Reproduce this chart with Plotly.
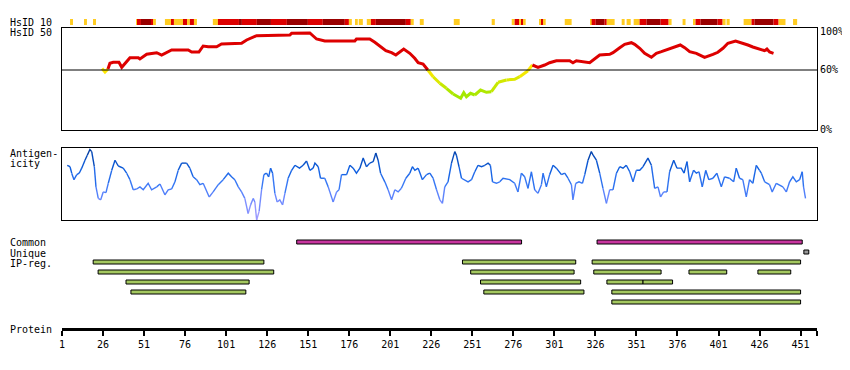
import plotly.graph_objects as go

# The page body adds an 8px margin; the figure is sized to fill the rest of the window.
PAGE_OFFSET = 8
W, H = 850 - PAGE_OFFSET, 370 - PAGE_OFFSET
FONT = "DejaVu Sans Mono"

# ---------------- data ----------------
AXIS_START = 1
PROTEIN_LENGTH = 461
TICK_VALUES = [1, 26, 51, 76, 101, 126, 151, 176, 201, 226, 251, 276, 301, 326, 351, 376, 401, 426, 451, 461]
TICK_LABELS = ["1", "26", "51", "76", "101", "126", "151", "176", "201", "226", "251", "276", "301",
               "326", "351", "376", "401", "426", "451", ""]

# HsID 10 heat strip: g = moderate (gold), r = high (red), d = very high (dark red)
HSID10_START = [5.9, 15.0, 19.9, 46.1, 46.7, 49.1, 55.8, 57.0, 63.7, 68.0, 69.2, 74.7, 77.7, 78.9, 81.4,
                92.9, 96.0, 108.8, 110.6, 119.7, 128.3, 138.0, 150.8, 159.9, 173.3, 175.8, 180.0, 181.8,
                186.7, 189.2, 192.2, 210.5, 213.5, 219.0, 239.7, 262.8, 275.0, 276.8, 279.9, 281.1, 282.3,
                292.1, 293.3, 294.5, 307.3, 323.1, 323.7, 326.2, 331.6, 332.9, 342.0, 345.0, 349.3, 352.9,
                357.2, 365.7, 370.6, 379.1, 385.8, 387.0, 390.1, 400.4, 403.5, 405.9, 416.3, 421.1, 422.9,
                434.5, 437.6, 446.4]
HSID10_END = [7.7, 16.2, 21.7, 46.7, 49.1, 55.8, 57.0, 58.2, 68.0, 69.2, 74.7, 77.7, 78.9, 81.4, 83.2,
              96.0, 108.8, 110.6, 119.7, 128.3, 138.0, 150.8, 159.9, 173.3, 175.8, 177.6, 181.2, 184.3,
              189.2, 192.2, 210.5, 213.5, 215.3, 221.4, 243.3, 264.7, 276.8, 279.9, 281.1, 282.3, 283.5,
              293.3, 294.5, 295.7, 311.5, 323.7, 326.2, 331.6, 332.9, 337.7, 343.8, 347.5, 352.9, 357.2,
              365.7, 370.6, 372.4, 380.9, 387.0, 390.1, 400.4, 403.5, 405.3, 407.8, 421.1, 422.9, 434.5,
              437.6, 441.8, 448.9]
HSID10_LEVEL = ["g", "g", "g", "g", "r", "d", "r", "g", "g", "r", "g", "r", "g", "r", "g",
                "g", "r", "d", "r", "d", "r", "d", "r", "d", "r", "g", "g", "g",
                "g", "r", "d", "r", "g", "g", "g", "g", "g", "r", "g", "r", "g",
                "g", "r", "g", "g", "g", "r", "d", "r", "g", "g", "g", "g", "r",
                "d", "r", "g", "g", "g", "r", "d", "r", "g", "g", "g", "r", "d",
                "r", "g", "g"]

# HsID 50 identity (%)
HSID50_THRESHOLD = 60
HSID50_POS = [25.4, 27.2, 29.0, 30.2, 32.2, 35.7, 37.4, 42.4, 47.5, 48.5, 52.6, 58.7, 61.7, 64.8, 67.8,
              77.9, 80.0, 84.4, 87.0, 90.1, 95.2, 98.2, 110.4, 113.5, 119.5, 139.8, 140.9, 152.0, 154.0,
              156.1, 161.1, 179.4, 180.4, 188.5, 191.6, 194.6, 198.3, 201.8, 204.4, 209.2, 212.9, 215.9,
              218.0, 221.0, 223.1, 223.9, 227.1, 231.2, 235.2, 239.3, 243.9, 245.8, 247.4, 249.9, 252.5,
              256.0, 259.6, 262.6, 266.7, 271.8, 276.8, 279.9, 284.9, 287.6, 291.0, 295.1, 298.1, 302.2,
              310.3, 312.3, 314.4, 322.5, 325.5, 328.6, 334.7, 336.7, 340.8, 343.8, 347.9, 349.9, 353.0,
              356.0, 360.1, 363.1, 366.2, 369.2, 373.2, 377.7, 380.4, 383.4, 387.5, 392.5, 397.6, 400.6,
              403.7, 406.7, 411.4, 414.9, 418.9, 421.9, 426.0, 429.1, 430.5, 432.1, 434.5]
HSID50_VAL = [61.5, 58, 61, 66.7, 67.7, 67.7, 62.7, 72.3, 72.3, 71, 75.7, 77.3, 75, 77.3, 80,
              80, 78, 78, 84, 83.3, 83.3, 86, 86.7, 90, 94.3, 95, 96.7, 97, 94.3,
              91, 89, 89, 91, 91, 87.7, 84, 79.3, 77.3, 75, 81, 76.7, 71.7,
              67.3, 66, 61.7, 60, 53.3, 46.7, 41.7, 36, 31.7, 37.3, 33.3, 36.7, 35,
              40, 37.7, 38.3, 47.7, 50, 50.7, 53.3, 59.3, 65, 62.7, 65, 67.3, 69.3,
              69.3, 67.3, 69.3, 67.3, 70.7, 75, 75.7, 77.3, 82.3, 85.7, 87.3, 85.7, 81.7,
              76.7, 72.7, 76.7, 78.3, 80, 82.3, 85, 82.3, 78.3, 76.7, 72.7, 75.7, 77.7,
              81.7, 86.7, 89, 87.3, 85, 83, 80.7, 79.3, 81, 78, 76.7]

# Antigenicity (normalised score 0..1)
ANTIGEN_POS = [4.2, 5.9, 6.9, 8.3, 10.0, 11.5, 13.0, 15.0, 16.4, 18.0, 19.1, 20.7, 21.7, 23.1, 24.6,
               26.1, 27.8, 29.2, 31.3, 33.3, 35.3, 38.3, 40.4, 42.4, 44.4, 46.5, 48.5, 50.5, 53.5, 55.6,
               58.7, 60.7, 63.7, 65.7, 67.8, 69.8, 71.8, 73.9, 76.9, 78.9, 80.9, 83.0, 85.0, 87.0, 90.7,
               93.1, 96.2, 99.2, 102.3, 104.3, 106.3, 108.4, 110.4, 112.4, 114.4, 115.9, 117.5, 118.5, 119.6,
               121.1, 122.6, 124.0, 125.6, 126.9, 128.1, 129.3, 130.7, 132.1, 133.7, 135.4, 136.8, 138.8,
               140.9, 142.9, 145.7, 147.9, 150.0, 152.0, 154.0, 155.1, 157.1, 158.5, 161.1, 163.2, 166.2,
               168.3, 169.8, 171.3, 174.4, 176.4, 178.4, 180.4, 182.5, 184.5, 186.5, 188.5, 190.6, 192.2,
               193.6, 195.1, 197.7, 199.7, 201.8, 203.8, 205.8, 207.8, 210.5, 212.9, 214.5, 216.0, 218.0,
               220.6, 223.1, 225.1, 227.1, 229.2, 231.2, 232.8, 234.2, 236.2, 238.3, 240.3, 241.3, 242.9,
               244.4, 246.4, 248.4, 250.5, 252.5, 254.5, 256.6, 258.6, 260.6, 262.0, 263.3, 265.7, 267.7,
               269.7, 273.8, 276.8, 278.8, 280.9, 282.9, 284.9, 287.0, 289.0, 291.0, 293.1, 294.1, 296.1,
               298.1, 300.2, 302.2, 305.3, 307.3, 309.3, 311.4, 312.3, 314.0, 316.0, 318.1, 319.5, 321.5,
               323.5, 324.6, 326.6, 328.6, 330.6, 332.7, 334.7, 336.7, 338.8, 340.8, 342.8, 344.8, 346.9,
               348.9, 350.9, 353.0, 355.0, 358.0, 360.1, 362.1, 364.1, 365.7, 367.6, 369.6, 371.2, 373.7,
               375.7, 378.3, 380.0, 381.8, 383.4, 385.8, 387.5, 389.1, 391.1, 393.2, 395.1, 397.6, 400.0,
               402.7, 404.7, 407.7, 410.2, 411.8, 413.8, 415.8, 417.9, 419.9, 421.9, 424.0, 426.0, 427.1,
               429.1, 432.1, 433.7, 436.2, 438.2, 440.2, 442.3, 444.3, 446.3, 448.4, 450.4, 452.0, 452.8,
               454.0]
ANTIGEN_VAL = [0.76, 0.74, 0.65, 0.56, 0.63, 0.65, 0.72, 0.83, 0.90, 0.98, 0.95, 0.74, 0.46, 0.30, 0.28,
               0.39, 0.38, 0.51, 0.69, 0.83, 0.75, 0.72, 0.65, 0.56, 0.42, 0.43, 0.46, 0.42, 0.51, 0.42,
               0.46, 0.50, 0.35, 0.42, 0.43, 0.53, 0.69, 0.79, 0.79, 0.72, 0.60, 0.56, 0.49, 0.51, 0.32,
               0.39, 0.49, 0.56, 0.65, 0.60, 0.56, 0.46, 0.39, 0.30, 0.09, 0.21, 0.30, 0.25, 0.00,
               0.12, 0.42, 0.63, 0.65, 0.60, 0.72, 0.65, 0.37, 0.25, 0.28, 0.21, 0.37, 0.58,
               0.69, 0.76, 0.72, 0.76, 0.82, 0.69, 0.72, 0.79, 0.74, 0.58, 0.58, 0.46, 0.25,
               0.39, 0.42, 0.63, 0.63, 0.76, 0.72, 0.65, 0.72, 0.86, 0.74, 0.79, 0.81, 0.93,
               0.83, 0.65, 0.53, 0.42, 0.28, 0.42, 0.39, 0.44, 0.58, 0.65, 0.74, 0.69, 0.72,
               0.56, 0.63, 0.65, 0.58, 0.42, 0.28, 0.23, 0.46, 0.53, 0.79, 0.95, 0.90, 0.74,
               0.58, 0.56, 0.53, 0.56, 0.67, 0.76, 0.74, 0.76, 0.79, 0.76, 0.53, 0.51, 0.53,
               0.58, 0.56, 0.51, 0.39, 0.65, 0.60, 0.44, 0.67, 0.42, 0.37, 0.49, 0.65, 0.46,
               0.63, 0.76, 0.72, 0.63, 0.65, 0.58, 0.49, 0.28, 0.51, 0.53, 0.51, 0.63, 0.83,
               0.95, 0.90, 0.83, 0.65, 0.44, 0.23, 0.42, 0.42, 0.65, 0.74, 0.72, 0.76, 0.67,
               0.53, 0.69, 0.69, 0.74, 0.86, 0.76, 0.44, 0.46, 0.32, 0.39, 0.39, 0.67, 0.83,
               0.72, 0.72, 0.65, 0.81, 0.53, 0.69, 0.65, 0.67, 0.46, 0.69, 0.56, 0.58, 0.65,
               0.46, 0.60, 0.58, 0.53, 0.72, 0.58, 0.56, 0.32, 0.56, 0.51, 0.76, 0.69, 0.65,
               0.53, 0.49, 0.39, 0.51, 0.49, 0.46, 0.39, 0.53, 0.60, 0.53, 0.56, 0.67, 0.46,
               0.30]

# Feature tracks (residue ranges)
COMMON_START = [144, 327]
COMMON_END = [281, 452]
UNIQUE_START = [453]
UNIQUE_END = [456]
IP_ROW = [0, 0, 0, 1, 1, 1, 1, 1, 2, 2, 2, 2, 3, 3, 3, 4]
IP_START = [20, 245, 324, 23, 250, 325, 383, 425, 40, 256, 333, 355, 43, 258, 336, 336]
IP_END = [124, 314, 451, 130, 313, 366, 406, 445, 115, 317, 355, 373, 113, 319, 451, 451]

# ---------------- styling ----------------
LEVEL_COLORS = {"g": "#FFCC22", "r": "#DD0000", "d": "#990000"}
RED = "#DD0000"
GREEN_BAR = "#A4C860"
MAGENTA = "#C8359F"
GREY = "#999999"


def pfrac(px):
    """Window pixel row -> paper fraction of the figure."""
    return 1 - (px - PAGE_OFFSET) / H


def hsid_color(a, b):
    v = min(a, b)
    if v >= HSID50_THRESHOLD:
        return RED
    t = max(0.0, min(1.0, (HSID50_THRESHOLD - (a + b) / 2) / 25.0))
    t = round(t * 8) / 8
    r = int(255 - t * 90)
    return f"rgb({r},232,0)"


ANT_STOPS = [(0.0, (170, 160, 255)), (0.3, (105, 135, 255)), (0.5, (55, 120, 245)),
             (0.7, (15, 95, 225)), (1.0, (0, 55, 150))]


def ant_color(a, b):
    v = round((a + b) / 2 * 20) / 20
    for (v0, c0), (v1, c1) in zip(ANT_STOPS[:-1], ANT_STOPS[1:]):
        if v <= v1:
            t = (v - v0) / (v1 - v0)
            c = [int(c0[k] + t * (c1[k] - c0[k])) for k in range(3)]
            return f"rgb({c[0]},{c[1]},{c[2]})"
    c = ANT_STOPS[-1][1]
    return f"rgb({c[0]},{c[1]},{c[2]})"


def colored_line(xs, ys, color_fn, width, xa, ya):
    groups = {}
    run_c, run_x, run_y = None, [], []
    for i in range(len(xs) - 1):
        c = color_fn(ys[i], ys[i + 1])
        if c != run_c:
            if run_c is not None:
                gx, gy = groups.setdefault(run_c, ([], []))
                gx.extend(run_x + [None]); gy.extend(run_y + [None])
            run_c, run_x, run_y = c, [xs[i]], [ys[i]]
        run_x.append(xs[i + 1]); run_y.append(ys[i + 1])
    gx, gy = groups.setdefault(run_c, ([], []))
    gx.extend(run_x); gy.extend(run_y)
    return [go.Scatter(x=gx, y=gy, mode="lines", line=dict(color=c, width=width),
                       xaxis=xa, yaxis=ya, hoverinfo="skip", showlegend=False, connectgaps=False)
            for c, (gx, gy) in groups.items()]


fig = go.Figure()

# HsID 10 strip
fig.add_trace(go.Bar(
    orientation="h", base=HSID10_START,
    x=[e - s for s, e in zip(HSID10_START, HSID10_END)],
    y=[0] * len(HSID10_START), width=1,
    marker=dict(color=[LEVEL_COLORS[l] for l in HSID10_LEVEL], line=dict(width=0)),
    xaxis="x2", yaxis="y2", hoverinfo="skip", showlegend=False))

# HsID 50 line
for tr in colored_line(HSID50_POS, HSID50_VAL, hsid_color, 3, "x3", "y3"):
    fig.add_trace(tr)

# Antigenicity
for tr in colored_line(ANTIGEN_POS, ANTIGEN_VAL, ant_color, 1.4, "x4", "y4"):
    fig.add_trace(tr)


def add_bars(starts, ends, rows, color):
    fig.add_trace(go.Bar(
        orientation="h", base=starts, x=[e - s for s, e in zip(starts, ends)],
        y=rows, width=0.4,
        marker=dict(color=color, line=dict(color="black", width=1)),
        xaxis="x", yaxis="y", hoverinfo="skip", showlegend=False))


add_bars(COMMON_START, COMMON_END, [0] * len(COMMON_START), MAGENTA)
add_bars(UNIQUE_START, UNIQUE_END, [1] * len(UNIQUE_START), GREY)
add_bars(IP_START, IP_END, [r + 2 for r in IP_ROW], GREEN_BAR)

XR = [AXIS_START, PROTEIN_LENGTH]
hidden_x = dict(range=XR, domain=[0, 1], showgrid=False, zeroline=False, showticklabels=False, ticks="")
box = dict(showline=True, mirror=True, linecolor="black", linewidth=1)

MARGIN_L = 62 - PAGE_OFFSET

fig.update_layout(
    width=W, height=H,
    margin=dict(l=MARGIN_L, r=850 - 817, t=0, b=0, autoexpand=False),
    paper_bgcolor="white", plot_bgcolor="white",
    barmode="overlay", showlegend=False,
    font=dict(family=FONT, size=10, color="black"),
    xaxis=dict(range=XR, domain=[0, 1], anchor="free", position=pfrac(329),
               showline=True, linewidth=3, linecolor="black", ticks="outside", ticklen=5,
               tickwidth=2, tickcolor="black", tickvals=TICK_VALUES, ticktext=TICK_LABELS,
               tickfont=dict(family=FONT, size=10, color="black"),
               showgrid=False, zeroline=False),
    yaxis=dict(domain=[pfrac(307), pfrac(237)], range=[6.5, -0.5], visible=False),
    xaxis2=dict(anchor="y2", visible=False, **hidden_x),
    yaxis2=dict(domain=[pfrac(25), pfrac(19)], range=[-0.5, 0.5], visible=False),
    xaxis3=dict(anchor="y3", **hidden_x, **box),
    yaxis3=dict(anchor="x3", domain=[pfrac(130), pfrac(28)], range=[0, 102], showgrid=False,
                zeroline=False, showticklabels=False, ticks="", **box),
    xaxis4=dict(anchor="y4", **hidden_x, **box),
    yaxis4=dict(anchor="x4", domain=[pfrac(220), pfrac(148)], range=[0, 1], showgrid=False,
                zeroline=False, showticklabels=False, ticks="", **box),
)

fig.add_shape(type="line", xref="x3 domain", yref="y3", x0=0, x1=1,
              y0=HSID50_THRESHOLD, y1=HSID50_THRESHOLD, line=dict(color="black", width=1))

LEFT_LABELS = [("HsID 10", 22), ("HsID 50", 33), ("Antigen-", 153), ("icity", 163),
               ("Common", 243), ("Unique", 253), ("IP-reg.", 263), ("Protein", 329)]
for text, ypx in LEFT_LABELS:
    fig.add_annotation(text=text, xref="paper", yref="paper", x=0, y=pfrac(ypx),
                       xanchor="left", yanchor="middle", xshift=-MARGIN_L + 1, showarrow=False,
                       borderpad=0, font=dict(family=FONT, size=10, color="black"))

PCT_LABELS = [(100, "100%"), (60, "60%"), (0, "0%")]
for val, text in PCT_LABELS:
    fig.add_annotation(text=text, xref="paper", yref="y3", x=1, y=val, xanchor="left",
                       yanchor="middle", xshift=2, yshift=-2 if val == 100 else 0, showarrow=False,
                       borderpad=0, font=dict(family=FONT, size=10, color="black"))

fig.write_html("out.html")
